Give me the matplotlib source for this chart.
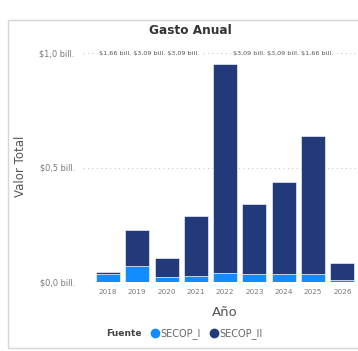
#!/usr/bin/env python3
"""Gasto anual por fuente (SECOP I / SECOP II), barras apiladas."""

import matplotlib

matplotlib.use("Agg")
import matplotlib.pyplot as plt
from matplotlib.lines import Line2D
from matplotlib.patches import Rectangle

years = [2018, 2019, 2020, 2021, 2022, 2023, 2024, 2025, 2026]
secop_i = [0.033, 0.070, 0.020, 0.026, 0.039, 0.034, 0.034, 0.034, 0.009]
secop_ii = [0.011, 0.157, 0.083, 0.264, 0.911, 0.305, 0.401, 0.605, 0.075]
top_labels_left = ["$1,66 bill.", "$3,09 bill.", "$3,09 bill."]
top_labels_right = ["$3,09 bill.", "$3,09 bill.", "$1,66 bill."]
y_ticks = [0.0, 0.5, 1.0]

C_I = "#118DFF"
C_II = "#223A7A"
GRAY = "#666666"

W, H = 358, 351
fig = plt.figure(figsize=(W / 100, H / 100), dpi=100)
fig.patch.set_facecolor("white")

# card border, behind everything
fig.add_artist(Rectangle((8 / W, 3 / H), 352 / W, 328 / H, transform=fig.transFigure,
                         facecolor="white", edgecolor="#d6d6d6", linewidth=1.0, zorder=-10))

ax = fig.add_axes([83 / W, 1 - 282 / H, 274 / W, 229 / H])
ax.set_facecolor("none")

ax.bar(years, secop_i, width=0.82, color=C_I, edgecolor="white", linewidth=0.4, zorder=3)
ax.bar(years, secop_ii, bottom=secop_i, width=0.82, color=C_II, edgecolor="white",
       linewidth=0.4, zorder=3)

ax.set_xlim(2017.15, 2026.5)
ax.set_ylim(0, 1.0)
ax.set_yticks(y_ticks)
ax.set_yticklabels([f"${v:.1f} bill.".replace(".", ",", 1) for v in y_ticks])
ax.set_xticks(years)
ax.set_xticklabels([str(y) for y in years])
ax.tick_params(axis="both", length=0, colors=GRAY, labelcolor="#777777")
ax.tick_params(axis="y", pad=6, labelsize=5.9)
ax.tick_params(axis="x", pad=5, labelsize=5.2)
ax.yaxis.grid(True, linestyle=(0, (1, 3)), color="#c8c8c8", linewidth=0.8, zorder=0)
ax.set_axisbelow(True)
for s in ax.spines.values():
    s.set_visible(False)

fig.text(190 / W, 1 - 31 / H, "Gasto Anual", ha="center", va="center",
         fontsize=8.7, fontweight="bold", color="#333333")
box = dict(facecolor="white", edgecolor="none", pad=1.0)
fig.text(99 / W, 1 - 53 / H, " ".join(top_labels_left), ha="left", va="center",
         fontsize=4.6, color="#555555", bbox=box)
fig.text(233 / W, 1 - 53 / H, " ".join(top_labels_right), ha="left", va="center",
         fontsize=4.6, color="#555555", bbox=box)
fig.text(20 / W, 1 - 166 / H, "Valor Total", rotation=90, ha="center", va="center",
         fontsize=8.5, color="#555555")
fig.text(225 / W, 1 - 313 / H, "Año", ha="center", va="center", fontsize=9.5, color="#555555")

handles = [Line2D([], [], marker="o", linestyle="", markersize=6, color=C_I),
           Line2D([], [], marker="o", linestyle="", markersize=6, color=C_II)]
fig.text(106 / W, 1 - 334 / H, "Fuente", ha="left", va="center", fontsize=6.6,
         fontweight="bold", color="#444444")
fig.legend(handles, ["SECOP_I", "SECOP_II"], loc="center left",
           bbox_to_anchor=(151 / W, 1 - 334 / H), ncol=2, frameon=False,
           fontsize=7, handlelength=0.8, handletextpad=0.2, columnspacing=0.9,
           borderaxespad=0, borderpad=0, labelcolor="#666666")

fig.savefig("out.png", dpi=100, facecolor="white")
